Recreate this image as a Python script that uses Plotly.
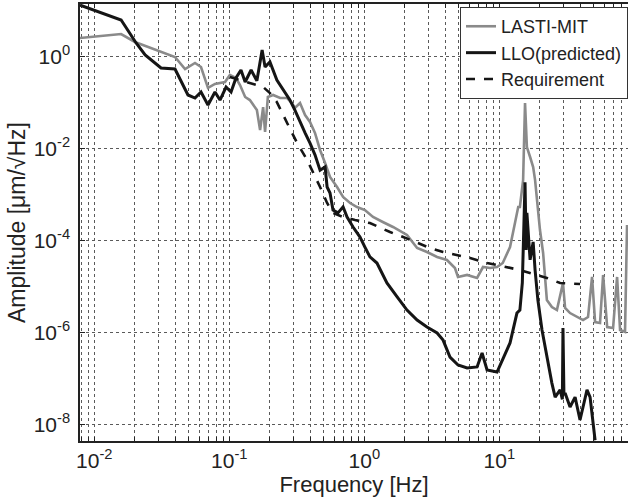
import plotly.graph_objects as go

# ---- data ----
lasti_f = [0.00783, 0.0158, 0.0200, 0.0396, 0.0470, 0.0557, 0.0617, 0.0695, 0.0783, 0.0929, 0.101, 0.112, 0.120, 0.131,
           0.142, 0.160, 0.169, 0.178, 0.184, 0.193, 0.211, 0.238, 0.268, 0.291, 0.306, 0.334, 0.364, 0.396, 0.431,
           0.470, 0.512, 0.557, 0.628, 0.696, 0.784, 0.883, 1.01, 1.16, 1.37, 1.63, 2.07, 2.46, 2.91, 3.46, 4.09,
           4.69, 4.94, 5.77, 6.84, 7.57, 8.53, 9.62, 10.6, 12.0, 13.1, 13.8, 14.2, 15.0, 15.5, 16.0, 16.9, 17.8,
           18.4, 19.3, 20.0, 21.1, 22.5, 24.5, 26.7, 29.6, 30.7, 33.4, 37.6, 41.7, 45.4, 48.6, 51.2, 55.7, 58.7,
           62.9, 69.6, 74.5, 78.4, 85.3, 88.3]
lasti_a = [2.55, 3.12, 2.09, 0.985, 0.54, 0.73, 0.597, 0.209, 0.255, 0.281, 0.40, 0.344, 0.242, 0.133, 0.114, 0.069,
           0.0254, 0.080, 0.023, 0.133, 0.147, 0.126, 0.126, 0.0983, 0.0765, 0.0983, 0.0538, 0.0379, 0.0219, 0.00933,
           0.00486, 0.00241, 0.00146, 8.85e-4, 6.55e-4, 5.36e-4, 4.61e-4, 3.25e-4, 2.53e-4, 1.97e-4, 1.32e-4, 6.87e-5,
           5.62e-5, 4.38e-5, 3.77e-5, 2.52e-5, 1.61e-5, 1.78e-5, 1.53e-5, 2.65e-5, 2.52e-5, 2.65e-5, 3.24e-5, 7.22e-5,
           2.53e-4, 5.36e-4, 5.36e-4, 2.07e-3, 0.098, 0.0108, 6.56e-3, 3.98e-3, 2.07e-3, 5.36e-4, 1.69e-4, 5.35e-5,
           5.07e-6, 3.57e-6, 3.07e-6, 1.19e-5, 3.4e-6, 2.64e-6, 2.16e-6, 1.86e-6, 2.16e-6, 1.61e-5, 1.68e-6, 1.6e-6,
           1.78e-5, 1.31e-6, 1.25e-6, 1.61e-5, 1.13e-6, 1.03e-6, 2.18e-4]

llo_f = [0.00783, 0.0158, 0.0204, 0.0238, 0.0312, 0.0396, 0.0494, 0.0557, 0.0617, 0.0695, 0.0783, 0.0853, 0.0946,
         0.103, 0.112, 0.122, 0.131, 0.145, 0.160, 0.175, 0.184, 0.200, 0.225, 0.250, 0.281, 0.306, 0.334, 0.364,
         0.396, 0.431, 0.470, 0.512, 0.530, 0.557, 0.586, 0.638, 0.696, 0.745, 0.825, 0.929, 1.01, 1.10, 1.24, 1.47,
         1.75, 2.07, 2.46, 2.91, 3.46, 3.83, 4.31, 4.94, 5.77, 6.84, 7.45, 8.11, 9.62, 10.6, 12.0, 13.5, 14.2, 14.8,
         15.2, 15.5, 15.8, 16.0, 16.9, 17.8, 18.4, 19.3, 20.7, 22.5, 24.5, 25.9, 28.2, 29.3, 29.6, 30.1, 30.7, 33.4,
         36.4, 39.6, 44.6, 47.0, 51.2]
llo_a = [13.3, 6.3, 1.99, 1.09, 0.568, 0.540, 0.147, 0.126, 0.171, 0.0889, 0.171, 0.114, 0.219, 0.171, 0.344, 0.514,
         0.281, 0.514, 0.30, 1.40, 0.60, 0.767, 0.31, 0.19, 0.114, 0.069, 0.038, 0.022, 0.0132, 0.0073, 0.0034,
         0.0040, 0.00146, 0.00108, 4.6e-4, 4.0e-4, 5.4e-4, 3.25e-4, 1.97e-4, 1.19e-4, 7.2e-5, 4.4e-5, 3.24e-5,
         1.19e-5, 5.9e-6, 3.07e-6, 1.86e-6, 1.31e-6, 9.7e-7, 6.8e-7, 2.9e-7, 1.95e-7, 1.68e-7, 1.77e-7, 3.56e-7,
         1.52e-7, 1.37e-7, 2.51e-7, 5.9e-7, 2.64e-6, 3.07e-6, 1.19e-5, 1.97e-4, 1.86e-3, 6.2e-5, 4.0e-4, 3.8e-5,
         9.3e-5, 2.28e-5, 5.07e-6, 1.13e-6, 2.9e-7, 7.9e-8, 3.9e-8, 5.6e-8, 3.5e-8, 1.25e-6, 4.3e-8, 4.8e-8,
         2.38e-8, 3.9e-8, 1.24e-8, 5.6e-8, 3.9e-8, 4.5e-9]

req_f = [0.101, 0.120, 0.178, 0.200, 0.225, 0.268, 0.318, 0.377, 0.417, 0.470, 0.530, 0.586, 0.696, 0.853, 1.10,
         1.55, 1.94, 2.46, 3.07, 3.83, 4.86, 6.07, 7.57, 9.62, 12.0, 14.2, 22.5, 28.2, 39.6]
req_a = [0.361, 0.311, 0.219, 0.162, 0.103, 0.0361, 0.0132, 5.65e-3, 3.1e-3, 1.46e-3, 6.55e-4, 3.97e-4, 3.25e-4,
         2.79e-4, 2.4e-4, 1.53e-4, 1.19e-4, 8.83e-5, 6.87e-5, 5.62e-5, 4.84e-5, 4.16e-5, 3.4e-5, 2.93e-5, 2.52e-5,
         2.28e-5, 1.53e-5, 1.19e-5, 1.13e-5]

x_major = [0.01, 0.1, 1, 10]
x_major_text = ["10<sup>-2</sup>", "10<sup>-1</sup>", "10<sup>0</sup>", "10<sup>1</sup>"]
y_major = [1e-8, 1e-6, 1e-4, 1e-2, 1]
y_major_text = ["10<sup>-8</sup>", "10<sup>-6</sup>", "10<sup>-4</sup>", "10<sup>-2</sup>", "10<sup>0</sup>"]

# x tick positions: decades plus 2..9 multiples
x_tickvals, x_ticktext = [], []
for dec in [0.001, 0.01, 0.1, 1, 10]:
    for m in range(1, 10):
        v = round(m * dec, 6)
        if 0.0078 <= v <= 90:
            x_tickvals.append(v)
            x_ticktext.append(x_major_text[x_major.index(v)] if v in x_major else "")

FONT = "Liberation Sans, Arial, sans-serif"
TXT = "#222222"
fig = go.Figure()
fig.add_trace(go.Scatter(x=lasti_f, y=lasti_a, mode="lines", name="LASTI-MIT",
                         line=dict(color="#8a8a8a", width=2.6)))
fig.add_trace(go.Scatter(x=llo_f, y=llo_a, mode="lines", name="LLO(predicted)",
                         line=dict(color="#151515", width=3)))
fig.add_trace(go.Scatter(x=req_f, y=req_a, mode="lines", name="Requirement",
                         line=dict(color="#151515", width=2.6, dash="dash")))

grid = dict(showgrid=True, gridcolor="#5a5a5a", griddash="dot", gridwidth=1)
fig.update_xaxes(type="log", range=[-2.106, 1.953], tickvals=x_tickvals, ticktext=x_ticktext,
                 ticks="inside", ticklen=4, tickcolor=TXT, showline=True, linecolor=TXT, linewidth=1.5,
                 mirror="ticks", zeroline=False, tickfont=dict(size=21, family=FONT, color=TXT),
                 title=dict(text="Frequency [Hz]", font=dict(size=22, family=FONT, color=TXT), standoff=4),
                 **grid)
fig.update_yaxes(type="log", range=[-8.363, 1.147], tickvals=y_major, ticktext=y_major_text,
                 ticks="inside", ticklen=5, tickcolor=TXT, showline=True, linecolor=TXT, linewidth=1.5,
                 zeroline=False, tickfont=dict(size=21, family=FONT, color=TXT), ticklabelstandoff=4,
                 title=dict(text="Amplitude [μm/√Hz]", font=dict(size=23, family=FONT, color=TXT), standoff=2),
                 **grid)
fig.update_layout(width=628, height=502, margin=dict(l=80, r=0, t=4, b=61, autoexpand=False),
                  paper_bgcolor="white", plot_bgcolor="white",
                  font=dict(family=FONT, size=20, color=TXT),
                  legend=dict(x=1.0, y=0.993, xanchor="right", yanchor="top", bgcolor="white",
                              bordercolor="#333", borderwidth=1, font=dict(size=18, family=FONT, color=TXT),
                              itemwidth=30, tracegroupgap=0),
                  showlegend=True)
fig.write_html("out.html")
